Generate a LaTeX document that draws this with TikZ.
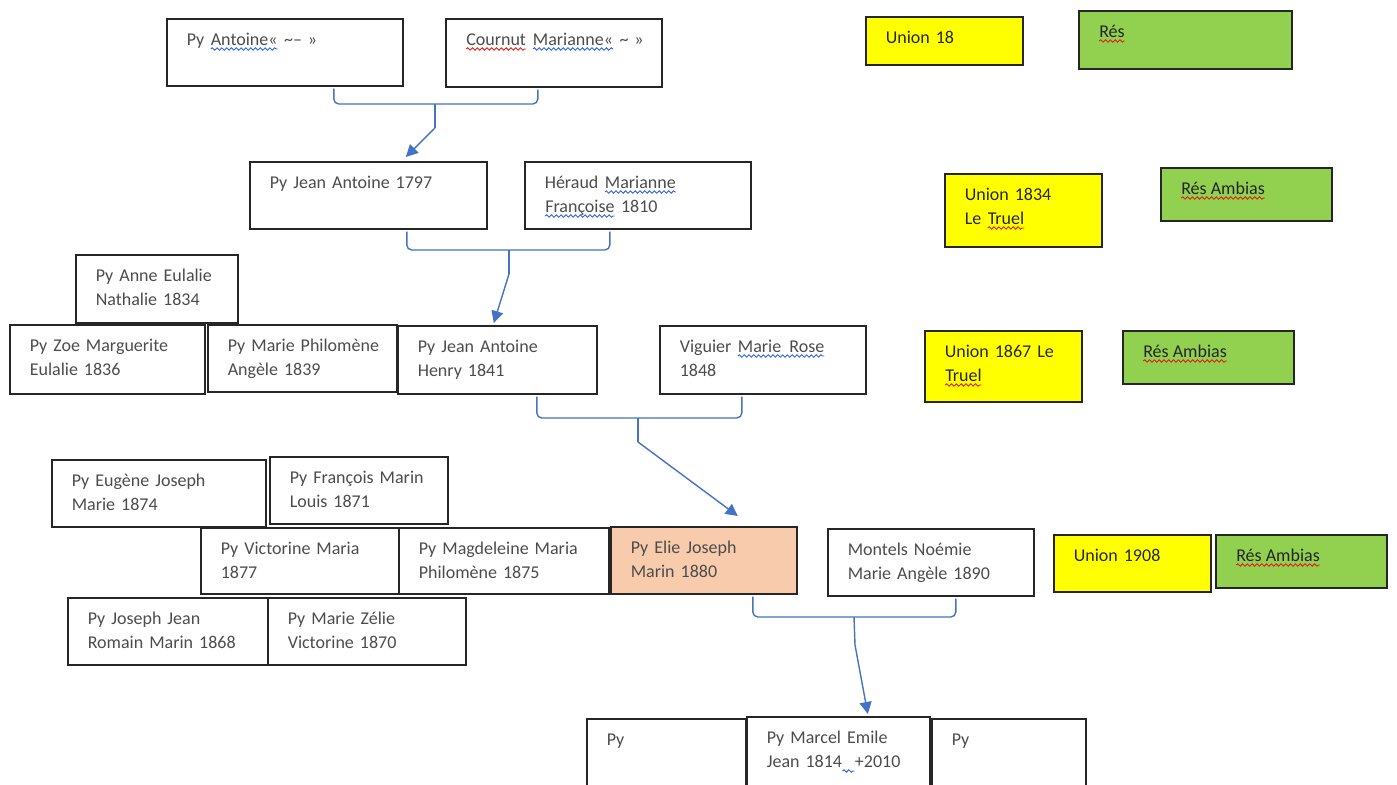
\documentclass[tikz,border=0pt]{standalone}
\usepackage{fontspec}
\setmainfont{Carlito}
\usetikzlibrary{arrows.meta,decorations.pathmorphing}
\definecolor{uyellow}{HTML}{FFFF00}
\definecolor{rgreen}{HTML}{92D050}
\definecolor{peach}{HTML}{F8CBAD}
\definecolor{lblue}{HTML}{4472C4}
\definecolor{spellred}{HTML}{E02020}
\definecolor{spellblue}{HTML}{3366DD}
\newcommand\wavy[2]{\tikz[baseline=(sq.base)]{\node[inner sep=0pt,outer sep=0pt] (sq) {#2};
  \draw[#1,line width=0.45pt,decorate,decoration={snake,amplitude=0.6pt,segment length=2.4pt}] ([yshift=-1.6pt]sq.base west) -- ([yshift=-1.6pt]sq.base east);}}
\begin{document}
\begin{tikzpicture}[x=0.5pt,y=-0.5pt,every node/.style={font=\fontsize{9}{12}\selectfont},
  gbox/.style 2 args={draw=black!85,line width=0.8pt,anchor=north west,inner xsep=10pt,inner ysep=0pt,text height=13.5pt,text width=#1,text depth=#2,
    execute at begin node={\rightskip=0pt minus 60pt}},
  person/.style 2 args={gbox={#1}{#2},text=black!70},
  focus/.style 2 args={gbox={#1}{#2},fill=peach,text=black!70},
  union/.style 2 args={gbox={#1}{#2},fill=uyellow,text=black!85},
  resid/.style 2 args={gbox={#1}{#2},fill=rgreen,text=black!85},
  link/.style={draw=lblue,line width=0.7pt,rounded corners=2.5pt},
  arr/.style={link,-{Triangle[length=6pt,width=6pt]}}]
\useasboundingbox (0,0) rectangle (1397,785);
% generation 1
\node[person={98pt}{20pt}] (pa) at (166,18) {Py \wavy{spellblue}{Antoine«} \textasciitilde– »};
\node[person={88pt}{20.5pt}] (cm) at (445,18) {\wavy{spellred}{Cournut} \wavy{spellblue}{Marianne«} \textasciitilde{} »};
\node[union={58.5pt}{10.5pt}] (u18) at (865,16) {Union 18};
\node[resid={86.5pt}{15.5pt}] (r18) at (1078,10) {\wavy{spellred}{Rés}};
% generation 2
\node[person={98.5pt}{20pt}] (pja) at (249,161) {Py Jean Antoine 1797};
\node[person={93pt}{20pt}] (hm) at (524,161) {Héraud \wavy{spellblue}{Marianne }\\\wavy{spellblue}{Françoise} 1810};
\node[union={58.5pt}{23pt}] (u1834) at (944,173) {Union 1834\\Le \wavy{spellred}{Truel}};
\node[resid={65.5pt}{13pt}] (r1834) at (1160,167) {\wavy{spellred}{Rés Ambias}};
% generation 3
\node[person={61pt}{20.5pt}] (aen) at (75,254) {Py Anne Eulalie\\Nathalie 1834};
\node[person={77.5pt}{21pt}] (zme) at (9,324) {Py Zoe Marguerite\\Eulalie 1836};
\node[person={74.5pt}{20pt}] (mpa) at (207,324) {Py Marie Philomène\\Angèle 1839};
\node[person={79.5pt}{20.5pt}] (jah) at (397,325) {Py Jean Antoine\\Henry 1841};
\node[person={83pt}{20.5pt}] (vmr) at (659,325) {Viguier \wavy{spellblue}{Marie\ \ Rose}\\1848};
\node[union={58.5pt}{22pt}] (u1867) at (924,330) {Union 1867 Le\\\wavy{spellred}{Truel}};
\node[resid={65.5pt}{13pt}] (r1867) at (1122,330) {\wavy{spellred}{Rés Ambias}};
% generation 4
\node[person={87pt}{20pt}] (ejm) at (51,459) {Py Eugène Joseph\\Marie 1874};
\node[person={69pt}{20pt}] (fml) at (269,456) {Py François Marin\\Louis 1871};
\node[person={79pt}{19.5pt}] (vm) at (200,527) {Py Victorine Maria\\1877};
\node[person={85pt}{19.5pt}] (mmp) at (398,527) {Py Magdeleine Maria\\Philomène 1875};
\node[focus={73pt}{20pt}] (ejma) at (610,526) {Py Elie Joseph\\Marin 1880};
\node[person={83pt}{20pt}] (mn) at (827,528) {Montels Noémie\\Marie Angèle 1890};
\node[union={58.5pt}{15pt}] (u1908) at (1053,534) {Union 1908};
\node[resid={65.5pt}{13pt}] (r1908) at (1215,534) {\wavy{spellred}{Rés Ambias}};
\node[person={80pt}{20pt}] (jjr) at (67,597) {Py Joseph Jean\\Romain Marin 1868};
\node[person={79pt}{20pt}] (mzv) at (267,597) {Py Marie Zélie\\Victorine 1870};
% generation 5
\node[person={59.5pt}{21pt}] (pyl) at (586,718) {Py};
\node[person={71.5pt}{22pt}] (pme) at (746,716) {Py Marcel Emile\\Jean 1814\wavy{spellblue}{\hspace*{6pt}}+2010};
\node[person={57pt}{21pt}] (pyr) at (931,718) {Py};
% unions
\coordinate (j1) at (435,104); \coordinate (t1) at (435,128);
\coordinate (j2) at (509,250); \coordinate (t2) at (509,274);
\coordinate (j3) at (638,418); \coordinate (t3) at (638,442);
\coordinate (j4) at (854,617); \coordinate (t4) at (855,645);
\draw[link] ([xshift=24.5pt,yshift=-1pt]pa.south) |- (j1) -| ([xshift=-8pt,yshift=-1pt]cm.south); \draw[link] (j1) -- (t1);
\draw[arr] (t1) -- ([xshift=18.75pt,yshift=2pt]pja.north);
\draw[link] ([xshift=19.25pt,yshift=-1pt]pja.south) |- (j2) -| ([xshift=-14pt,yshift=-1pt]hm.south); \draw[link] (j2) -- (t2);
\draw[arr] (t2) -- ([xshift=-1.75pt,yshift=1pt]jah.north);
\draw[link] ([xshift=19.75pt,yshift=-1pt]jah.south) |- (j3) -| ([xshift=-10.5pt,yshift=-1pt]vmr.south); \draw[link] (j3) -- (t3);
\draw[arr] (t3) -- ([xshift=17pt,yshift=5pt]ejma.north);
\draw[link] ([xshift=24.5pt,yshift=-1pt]ejma.south) |- (j4) -| ([xshift=12.5pt,yshift=-1pt]mn.south); \draw[link] (j4) -- (t4);
\draw[arr] (t4) -- ([xshift=14.75pt,yshift=1pt]pme.north);
\end{tikzpicture}
\end{document}
